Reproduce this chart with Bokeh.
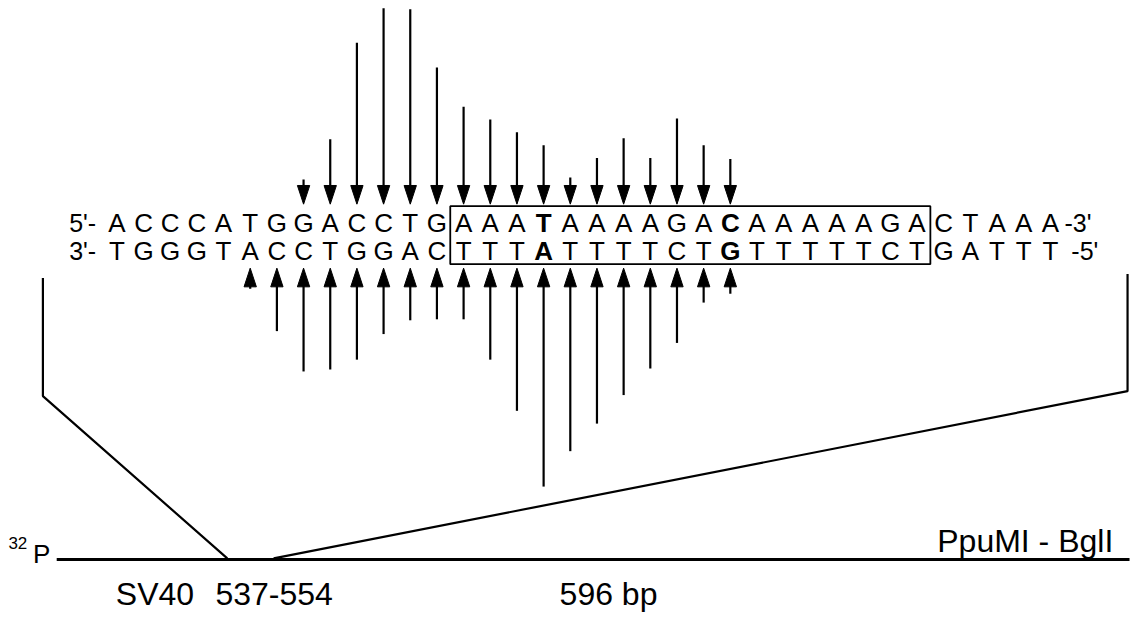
from bokeh.plotting import figure
from bokeh.models import Range1d
from bokeh.core.properties import value
from bokeh.embed import file_html
from bokeh.resources import INLINE

# ---------------- data ----------------
top_strand = list("ACCCATGGACCTGAAATAAAAGACAAAAAGACTAAA")
bottom_strand = list("TGGGTACCTGGACTTTATTTTCTGTTTTTCTGATTT")
bold_index = [16, 23]
box_first, box_last = 13, 30

# cleavage intensities (arrow lengths) on the top strand (arrows pointing down)
down_index = list(range(7, 24))
down_len = [25, 66, 164, 199, 198, 139, 99, 86, 73, 60, 27, 47, 67, 47, 87, 60, 46]

# cleavage intensities on the bottom strand (arrows pointing up)
up_index = list(range(5, 24))
up_len = [21, 64, 105, 103, 93, 67, 53, 52, 52, 93, 145, 222, 186, 158, 129, 102, 76, 35, 26]

strand_left = ["5'-", "3'-"]
strand_right = ["-3'", "-5'"]
label_probe = "32"
label_p = "P"
label_sv40 = ["SV40", "537-554"]
label_bp = "596 bp"
label_enz = "PpuMI - BglI"

# ---------------- layout ----------------
X0, DX = 118.0, 27.05
TOP_MID, BOT_MID = 226, 254.5
DOWN_TIP, UP_TIP = 207, 272
HEAD_L, HEAD_W = 19, 12.5
FONT = value("Liberation Sans")

def xpos(i):
    return X0 + DX * i

p = figure(width=1131, height=614, output_backend="svg", toolbar_location=None,
           x_range=Range1d(0, 1147), y_range=Range1d(624, 0),
           x_axis_type=None, y_axis_type=None, min_border=0,
           min_border_left=0, min_border_right=0, min_border_top=0, min_border_bottom=0)
p.grid.visible = False
p.outline_line_color = None
p.background_fill_color = "white"
p.border_fill_color = "white"

def label(x, y, txt, size, align="left", style="normal"):
    p.text(x=x, y=y, text=txt, text_font=FONT, text_font_size=size,
           text_font_style=style, text_align=align, text_baseline="middle",
           text_color="black")

# sequence letters
for row, mid in ((top_strand, TOP_MID), (bottom_strand, BOT_MID)):
    xs_n = [xpos(i) for i in range(len(row)) if i not in bold_index]
    ts_n = [row[i] for i in range(len(row)) if i not in bold_index]
    xs_b = [xpos(i) for i in bold_index]
    ts_b = [row[i] for i in bold_index]
    label(xs_n, [mid] * len(xs_n), ts_n, "26px", align="center")
    label(xs_b, [mid] * len(xs_b), ts_b, "26px", align="center", style="bold")

label([97, 97], [TOP_MID, BOT_MID], strand_left, "25px", align="right")
label([1079, 1086], [TOP_MID, BOT_MID], strand_right, "25px")

# box around the protected region
bx0 = xpos(box_first) - DX / 2
bx1 = xpos(box_last) + DX / 2
p.quad(left=[bx0], right=[bx1], top=[209], bottom=[268], fill_color=None,
       line_color="black", line_width=1.8)

# down arrows
dx_ = [xpos(i) for i in down_index]
p.segment(x0=dx_, y0=[DOWN_TIP - L for L in down_len], x1=dx_,
          y1=[DOWN_TIP - HEAD_L + 2] * len(dx_), line_color="black", line_width=2.2)
p.patches(xs=[[x - HEAD_W / 2, x + HEAD_W / 2, x] for x in dx_],
          ys=[[DOWN_TIP - HEAD_L, DOWN_TIP - HEAD_L, DOWN_TIP] for _ in dx_],
          fill_color="black", line_color="black", line_width=1)

# up arrows
ux_ = [xpos(i) for i in up_index]
p.segment(x0=ux_, y0=[UP_TIP + HEAD_L - 2] * len(ux_), x1=ux_,
          y1=[UP_TIP + L for L in up_len], line_color="black", line_width=2.2)
p.patches(xs=[[x - HEAD_W / 2, x + HEAD_W / 2, x] for x in ux_],
          ys=[[UP_TIP + HEAD_L, UP_TIP + HEAD_L, UP_TIP] for _ in ux_],
          fill_color="black", line_color="black", line_width=1)

# expansion lines to the fragment
p.line(x=[43, 43, 230], y=[282, 402, 567], line_color="black", line_width=2.2)
p.line(x=[1143, 1143, 277], y=[278, 397, 567], line_color="black", line_width=2.2)
# fragment
p.line(x=[57, 1145], y=[568, 568], line_color="black", line_width=3)

# labels
label([8], [551], [label_probe], "17px")
label([33], [563], [label_p], "26px")
label([117, 218], [603, 603], label_sv40, "32px")
label([567], [603], [label_bp], "32px")
label([950], [549], [label_enz], "32px")

open("out.html", "w").write(file_html(p, INLINE))
